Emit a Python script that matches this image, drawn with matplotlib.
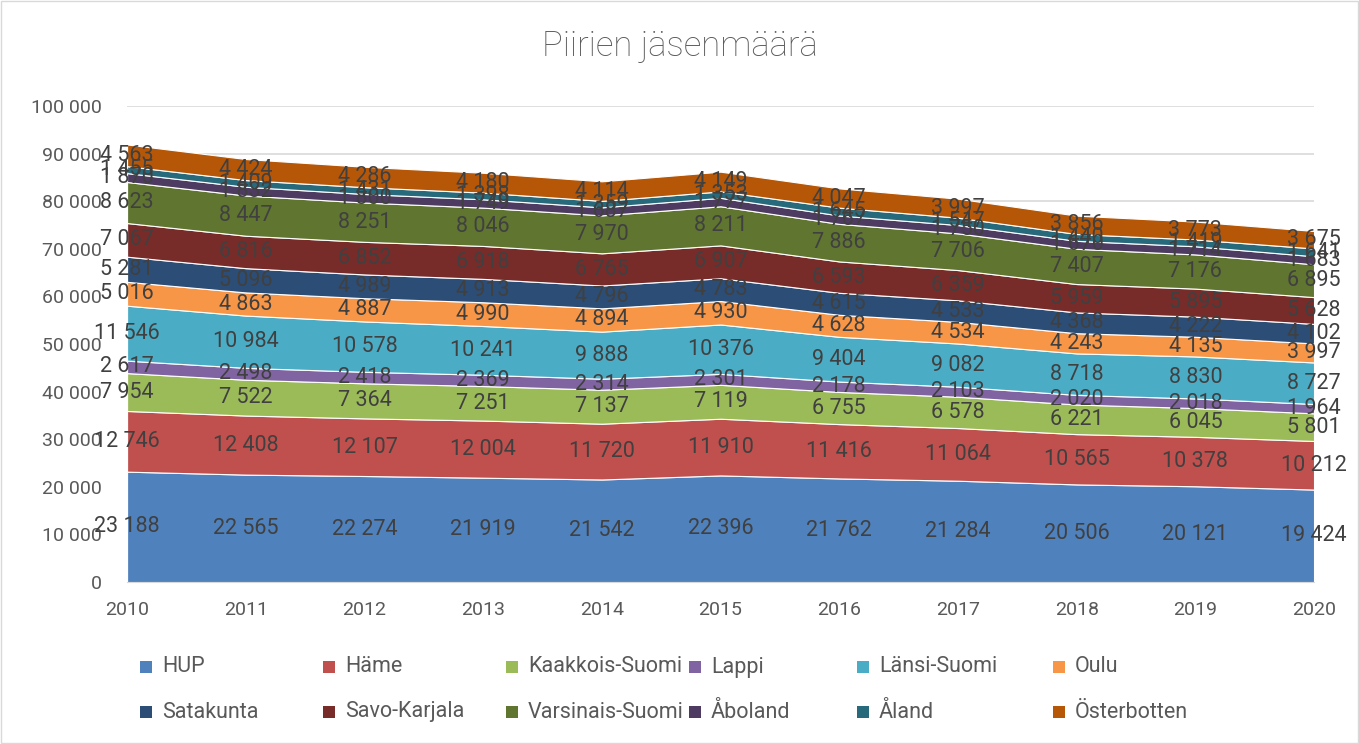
import numpy as np
import matplotlib.pyplot as plt
from matplotlib.patches import Rectangle

plt.rcParams['font.family'] = ['Roboto', 'DejaVu Sans']

years = list(range(2010, 2021))
names = ['HUP', 'Häme', 'Kaakkois-Suomi', 'Lappi', 'Länsi-Suomi', 'Oulu',
         'Satakunta', 'Savo-Karjala', 'Varsinais-Suomi', 'Åboland', 'Åland', 'Österbotten']

hup = [23188, 22565, 22274, 21919, 21542, 22396, 21762, 21284, 20506, 20121, 19424]
hame = [12746, 12408, 12107, 12004, 11720, 11910, 11416, 11064, 10565, 10378, 10212]
kaakkois = [7954, 7522, 7364, 7251, 7137, 7119, 6755, 6578, 6221, 6045, 5801]
lappi = [2617, 2498, 2418, 2369, 2314, 2301, 2178, 2103, 2020, 2018, 1964]
lansi = [11546, 10984, 10578, 10241, 9888, 10376, 9404, 9082, 8718, 8830, 8727]
oulu = [5016, 4863, 4887, 4990, 4894, 4930, 4628, 4534, 4243, 4135, 3997]
satakunta = [5281, 5096, 4989, 4913, 4796, 4783, 4615, 4533, 4368, 4222, 4102]
savo = [7067, 6816, 6852, 6918, 6765, 6907, 6593, 6359, 5959, 5895, 5628]
varsinais = [8623, 8447, 8251, 8046, 7970, 8211, 7886, 7706, 7407, 7176, 6895]
aboland = [1870, 1832, 1800, 1749, 1687, 1777, 1767, 1750, 1670, 1714, 1683]
aland = [1455, 1409, 1431, 1398, 1359, 1353, 1645, 1547, 1440, 1419, 1641]
osterbotten = [4563, 4424, 4286, 4180, 4114, 4149, 4047, 3997, 3856, 3773, 3675]

series = [hup, hame, kaakkois, lappi, lansi, oulu, satakunta, savo, varsinais,
          aboland, aland, osterbotten]
colors = ['#4F81BD', '#C0504D', '#9BBB59', '#8064A2', '#4BACC6', '#F79646',
          '#2C4D75', '#772C2A', '#5F7530', '#4D3B62', '#276A7C', '#B65708']

fig = plt.figure(figsize=(13.59, 7.44), dpi=100)
ax = fig.add_axes([0.0935, 0.2177, 0.8734, 0.6398])

ax.stackplot(years, *series, colors=colors, edgecolor='white', linewidth=0.8, zorder=2)

# etiketit kerroksen keskelle
data = np.array(series)
cum = np.cumsum(data, axis=0)
for i in range(len(series)):
    for j, yr in enumerate(years):
        v = data[i, j]
        ax.text(yr, cum[i, j] - v / 2, f'{v:,}'.replace(',', ' '), ha='center', va='center',
                fontsize=15.5, color='#404040', zorder=5, clip_on=False)

ax.set_xlim(2010, 2020)
ax.set_ylim(0, 100000)
ax.set_xticks(years)
ax.set_yticks(range(0, 100001, 10000))
ax.set_yticklabels([f'{v:,}'.replace(',', ' ') for v in range(0, 100001, 10000)])
ax.yaxis.grid(True, color='#D9D9D9', linewidth=1.2, zorder=0)
ax.set_axisbelow(True)
for s in ['top', 'right', 'left']:
    ax.spines[s].set_visible(False)
ax.spines['bottom'].set_color('#D9D9D9')
ax.tick_params(axis='both', length=0, labelsize=14, colors='#595959')
ax.tick_params(axis='x', pad=14)
ax.tick_params(axis='y', pad=18)

fig.suptitle('Piirien jäsenmäärä', x=0.5, y=0.96, fontsize=25, color='#595959',
             fontweight='light')

# selite kuten Excelissä, kiinteät sarakkeet
col_x = [162, 345, 528, 711, 879, 1075]
row_y = [667, 712]
W, H = 1359, 744
for k, (name, c) in enumerate(zip(names, colors)):
    cx = col_x[k % 6]
    cy = row_y[k // 6]
    fig.patches.append(Rectangle(((cx - 22) / W, 1 - (cy + 6) / H), 12 / W, 12 / H,
                                 facecolor=c, transform=fig.transFigure))
    fig.text(cx / W, 1 - cy / H, name, ha='left', va='center', fontsize=15.5, color='#595959')

fig.patches.append(Rectangle((0.001, 0.001), 0.998, 0.998, fill=False,
                             edgecolor='#D9D9D9', linewidth=1, transform=fig.transFigure))

fig.savefig('out.png', dpi=100)
